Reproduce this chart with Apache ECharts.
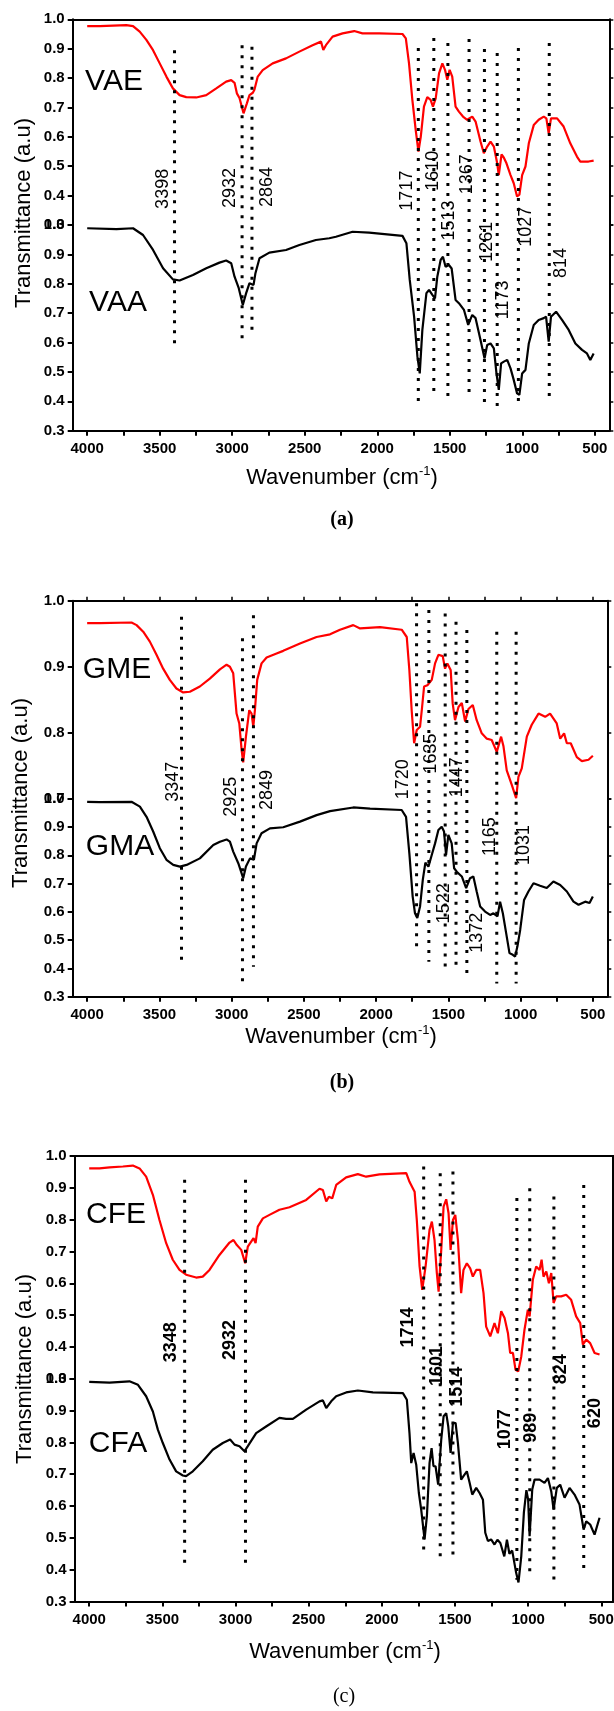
<!DOCTYPE html>
<html><head><meta charset="utf-8">
<script src="https://cdn.jsdelivr.net/npm/echarts@6/dist/echarts.min.js"></script>
<style>html,body{margin:0;padding:0;background:#fff}#c{width:614px;height:1711px}</style>
</head><body><div id="c"></div>
<script>
// ---------- tick labels ----------
const xLabelValues = [500,1000,1500,2000,2500,3000,3500,4000];
const xTickValues = [500,750,1000,1250,1500,1750,2000,2250,2500,2750,3000,3250,3500,3750,4000];

// ---------- panel (a) ----------
const VAE = [[4000,0.977],[3913,0.977],[3730,0.98],[3684,0.977],[3638,0.958],[3592,0.93],[3546,0.895],[3500,0.85],[3454,0.805],[3409,0.765],[3363,0.742],[3317,0.735],[3248,0.734],[3179,0.742],[3110,0.765],[3042,0.788],[3007,0.793],[2984,0.784],[2968,0.748],[2950,0.732],[2922,0.68],[2899,0.714],[2881,0.742],[2858,0.75],[2847,0.76],[2824,0.805],[2790,0.827],[2721,0.85],[2629,0.867],[2537,0.89],[2446,0.912],[2388,0.924],[2372,0.896],[2354,0.912],[2308,0.941],[2239,0.952],[2159,0.96],[2102,0.952],[1987,0.952],[1826,0.95],[1803,0.935],[1781,0.85],[1758,0.726],[1735,0.624],[1716,0.55],[1700,0.6],[1678,0.703],[1655,0.735],[1632,0.726],[1616,0.703],[1597,0.731],[1574,0.816],[1551,0.85],[1533,0.828],[1517,0.794],[1501,0.828],[1483,0.805],[1460,0.703],[1437,0.686],[1409,0.669],[1380,0.658],[1345,0.669],[1322,0.652],[1288,0.584],[1265,0.544],[1242,0.567],[1219,0.584],[1196,0.567],[1173,0.51],[1162,0.47],[1143,0.54],[1127,0.529],[1109,0.51],[1081,0.47],[1059,0.442],[1036,0.397],[1020,0.403],[1001,0.47],[978,0.499],[955,0.578],[921,0.64],[887,0.658],[852,0.669],[834,0.663],[818,0.612],[802,0.663],[760,0.663],[715,0.635],[669,0.578],[623,0.533],[600,0.516],[543,0.516],[508,0.519]];
const VAA = [[4000,0.989],[3798,0.986],[3684,0.989],[3615,0.966],[3546,0.915],[3477,0.853],[3409,0.815],[3363,0.811],[3271,0.83],[3179,0.853],[3088,0.872],[3042,0.879],[3007,0.87],[2984,0.824],[2955,0.785],[2927,0.728],[2904,0.768],[2881,0.802],[2853,0.796],[2840,0.836],[2812,0.887],[2744,0.906],[2629,0.915],[2537,0.932],[2423,0.949],[2331,0.955],[2285,0.96],[2170,0.977],[2056,0.974],[1826,0.963],[1799,0.938],[1776,0.813],[1746,0.688],[1723,0.552],[1707,0.495],[1689,0.643],[1661,0.768],[1643,0.779],[1620,0.762],[1602,0.75],[1586,0.824],[1563,0.881],[1547,0.892],[1529,0.858],[1517,0.852],[1506,0.864],[1487,0.852],[1460,0.745],[1437,0.734],[1402,0.711],[1373,0.66],[1345,0.694],[1322,0.683],[1288,0.609],[1260,0.546],[1242,0.592],[1219,0.597],[1196,0.58],[1178,0.495],[1162,0.439],[1146,0.529],[1127,0.535],[1104,0.541],[1081,0.512],[1059,0.473],[1036,0.427],[1020,0.422],[1001,0.495],[978,0.507],[955,0.597],[921,0.66],[887,0.677],[852,0.683],[836,0.688],[818,0.603],[802,0.688],[767,0.705],[726,0.677],[680,0.643],[634,0.597],[588,0.575],[554,0.563],[531,0.541],[508,0.563]];
const peaksA = [3398,2932,2864,1717,1610,1513,1367,1261,1173,1027,814];
const peakTopA = [1.595,1.612,1.607,1.602,1.636,1.619,1.633,1.599,1.585,1.602,1.619];
const peakBottomA = [0.592,0.602,0.643,0.394,0.428,0.411,0.411,0.391,0.377,0.394,0.408];
const peakLabelWnA = [3480,3016,2763,1793,1614,1503,1383,1246,1135,975,735];
const peakLabelYA = [1.123,1.126,1.129,1.117,1.185,1.015,1.173,0.943,0.745,0.994,0.871];

// ---------- panel (b) ----------
const GME = [[4000,0.966],[3912,0.966],[3693,0.967],[3658,0.963],[3612,0.953],[3566,0.938],[3520,0.918],[3474,0.897],[3428,0.88],[3382,0.867],[3335,0.861],[3289,0.862],[3220,0.87],[3151,0.882],[3081,0.896],[3035,0.903],[3012,0.9],[2989,0.89],[2966,0.829],[2947,0.814],[2931,0.774],[2920,0.755],[2901,0.794],[2878,0.834],[2862,0.829],[2850,0.809],[2839,0.834],[2823,0.88],[2793,0.905],[2758,0.914],[2689,0.92],[2643,0.924],[2527,0.935],[2412,0.945],[2319,0.949],[2250,0.956],[2158,0.963],[2111,0.958],[1973,0.96],[1823,0.956],[1788,0.945],[1770,0.895],[1754,0.834],[1737,0.784],[1719,0.804],[1696,0.809],[1684,0.834],[1668,0.87],[1645,0.872],[1615,0.88],[1592,0.905],[1569,0.918],[1539,0.916],[1523,0.897],[1507,0.905],[1484,0.895],[1470,0.844],[1454,0.819],[1430,0.839],[1407,0.845],[1384,0.817],[1361,0.836],[1331,0.842],[1304,0.819],[1269,0.799],[1234,0.791],[1200,0.789],[1165,0.771],[1135,0.794],[1119,0.78],[1096,0.743],[1061,0.721],[1031,0.701],[1015,0.733],[992,0.746],[957,0.794],[923,0.812],[876,0.829],[830,0.824],[796,0.829],[750,0.814],[726,0.791],[699,0.799],[680,0.784],[653,0.784],[611,0.763],[576,0.757],[530,0.759],[500,0.765]];
const GMA = [[4000,0.989],[3912,0.988],[3693,0.989],[3635,0.972],[3589,0.936],[3543,0.884],[3497,0.825],[3451,0.784],[3404,0.766],[3358,0.76],[3312,0.766],[3220,0.789],[3127,0.836],[3081,0.848],[3035,0.856],[3012,0.848],[2989,0.813],[2954,0.772],[2920,0.719],[2901,0.76],[2873,0.789],[2846,0.784],[2827,0.842],[2793,0.878],[2735,0.895],[2643,0.899],[2527,0.919],[2412,0.942],[2319,0.956],[2158,0.969],[2042,0.965],[1823,0.96],[1793,0.936],[1770,0.807],[1747,0.654],[1731,0.595],[1715,0.578],[1696,0.619],[1677,0.713],[1659,0.774],[1638,0.76],[1615,0.801],[1592,0.842],[1569,0.889],[1546,0.901],[1530,0.884],[1516,0.801],[1500,0.872],[1477,0.842],[1460,0.754],[1442,0.742],[1407,0.725],[1377,0.684],[1350,0.719],[1327,0.725],[1304,0.672],[1280,0.619],[1246,0.601],[1211,0.589],[1188,0.595],[1160,0.584],[1142,0.636],[1123,0.595],[1100,0.525],[1077,0.454],[1054,0.448],[1038,0.442],[1022,0.478],[1003,0.536],[976,0.642],[946,0.672],[911,0.701],[865,0.692],[819,0.684],[773,0.707],[726,0.695],[680,0.672],[634,0.636],[599,0.625],[553,0.636],[523,0.631],[500,0.654]];
const peaksB = [3347,2925,2849,1720,1635,1522,1447,1372,1165,1031];
const peakTopB = [1.643,1.567,1.649,1.691,1.667,1.655,1.626,1.596,1.59,1.59];
const peakBottomB = [0.406,0.33,0.406,0.465,0.424,0.406,0.388,0.359,0.347,0.347];
const peakLabelWnB = [3409,3007,2753,1812,1620,1530,1438,1303,1211,976];
const peakLabelYB = [1.06,1.007,1.031,1.069,1.16,0.63,1.076,0.526,0.866,0.836];

// ---------- panel (c) ----------
const CFE = [[4000,0.961],[3930,0.961],[3861,0.964],[3770,0.967],[3702,0.97],[3656,0.961],[3611,0.935],[3565,0.878],[3520,0.799],[3474,0.726],[3429,0.674],[3383,0.642],[3338,0.627],[3269,0.618],[3224,0.621],[3178,0.642],[3110,0.689],[3041,0.728],[3014,0.736],[2991,0.72],[2961,0.705],[2934,0.663],[2916,0.715],[2893,0.731],[2877,0.742],[2863,0.726],[2848,0.778],[2813,0.804],[2768,0.815],[2700,0.831],[2631,0.839],[2517,0.862],[2426,0.897],[2403,0.893],[2380,0.857],[2362,0.872],[2339,0.867],[2312,0.909],[2244,0.933],[2164,0.943],[2107,0.935],[2016,0.942],[1833,0.946],[1811,0.919],[1776,0.888],[1761,0.799],[1742,0.653],[1724,0.579],[1701,0.653],[1674,0.768],[1658,0.794],[1640,0.736],[1624,0.632],[1612,0.574],[1594,0.705],[1578,0.841],[1560,0.864],[1544,0.82],[1530,0.705],[1514,0.799],[1498,0.815],[1480,0.736],[1458,0.569],[1442,0.642],[1419,0.663],[1396,0.647],[1378,0.621],[1355,0.642],[1328,0.642],[1305,0.569],[1287,0.464],[1259,0.433],[1230,0.475],[1207,0.443],[1184,0.512],[1161,0.491],[1138,0.443],[1123,0.381],[1104,0.381],[1086,0.328],[1068,0.323],[1047,0.37],[1025,0.454],[1002,0.517],[990,0.496],[968,0.611],[945,0.653],[922,0.642],[908,0.674],[895,0.621],[876,0.637],[858,0.6],[842,0.632],[826,0.538],[808,0.559],[774,0.559],[740,0.564],[706,0.548],[672,0.496],[644,0.475],[626,0.407],[603,0.423],[576,0.412],[546,0.381],[512,0.376]];
const CFA = [[4000,0.99],[3861,0.988],[3725,0.992],[3667,0.981],[3611,0.945],[3565,0.897],[3531,0.84],[3497,0.798],[3451,0.746],[3406,0.709],[3360,0.696],[3338,0.694],[3292,0.709],[3224,0.741],[3156,0.777],[3087,0.798],[3037,0.809],[3007,0.793],[2973,0.788],[2939,0.772],[2916,0.788],[2859,0.829],[2791,0.85],[2700,0.877],[2654,0.874],[2608,0.874],[2517,0.903],[2426,0.929],[2403,0.932],[2380,0.908],[2346,0.929],[2312,0.945],[2244,0.957],[2164,0.963],[2061,0.957],[1856,0.955],[1829,0.934],[1811,0.829],[1799,0.735],[1783,0.767],[1765,0.73],[1747,0.641],[1731,0.589],[1708,0.495],[1692,0.568],[1674,0.735],[1660,0.782],[1647,0.725],[1633,0.725],[1615,0.667],[1594,0.809],[1578,0.882],[1560,0.892],[1546,0.85],[1530,0.767],[1514,0.861],[1496,0.861],[1480,0.798],[1458,0.683],[1442,0.694],[1419,0.709],[1400,0.673],[1382,0.636],[1355,0.657],[1332,0.641],[1309,0.62],[1293,0.516],[1275,0.49],[1253,0.495],[1230,0.479],[1210,0.494],[1190,0.484],[1163,0.442],[1145,0.494],[1128,0.45],[1109,0.46],[1082,0.39],[1066,0.36],[1047,0.442],[1029,0.58],[1012,0.65],[1000,0.62],[990,0.505],[972,0.652],[956,0.683],[922,0.683],[888,0.673],[865,0.688],[842,0.646],[826,0.589],[804,0.657],[781,0.667],[751,0.626],[717,0.657],[683,0.636],[649,0.605],[621,0.526],[603,0.552],[576,0.542],[546,0.51],[512,0.563]];
const peaksC = [3348,2932,1714,1601,1514,1077,989,824,620];
const peakTopC = [1.625,1.625,1.667,1.646,1.651,1.568,1.599,1.573,1.609];
const peakBottomC = [0.415,0.415,0.457,0.436,0.441,0.368,0.389,0.368,0.399];
const peakLabelWnC = [3440,3041,1822,1624,1487,1161,977,774,546];
const peakLabelYC = [1.115,1.122,1.161,1.04,0.975,0.841,0.846,1.03,0.892];

// ---------- layout ----------
const SANS = "'Liberation Sans', Arial, sans-serif";
const SERIF = "'Liberation Serif', 'Times New Roman', serif";
const panels = [
  {left:72.7, width:536.6, top:19.3, half:205.7, xMin:400, xMax:4100, topMin:0.3, topTicks:false,
   red:VAE, black:VAA, peaks:peaksA, pTop:peakTopA, pBot:peakBottomA, lw:peakLabelWnA, ly:peakLabelYA, bold:false,
   names:['VAE','VAA'], nameXY:[[114,82],[118,303]], yTitle:[24,213], xTitle:[342,478], tag:'(a)', tagXY:[342,520], tagBold:true},
  {left:72.7, width:534.6, top:600.7, half:198, xMin:400, xMax:4100, topMin:0.7, topTicks:true,
   red:GME, black:GMA, peaks:peaksB, pTop:peakTopB, pBot:peakBottomB, lw:peakLabelWnB, ly:peakLabelYB, bold:false,
   names:['GME','GMA'], nameXY:[[117,670],[120,847]], yTitle:[21,793], xTitle:[341,1037], tag:'(b)', tagXY:[342,1083], tagBold:true},
  {left:74.6, width:538.4, top:1156, half:222.75, xMin:420, xMax:4100, topMin:0.3, topTicks:false,
   red:CFE, black:CFA, peaks:peaksC, pTop:peakTopC, pBot:peakBottomC, lw:peakLabelWnC, ly:peakLabelYC, bold:true,
   names:['CFE','CFA'], nameXY:[[116,1215],[118,1444]], yTitle:[25,1369], xTitle:[345,1652], tag:'(c)', tagXY:[344,1697], tagBold:false}
];

const grid = [], xAxis = [], yAxis = [], series = [], graphic = [];
const axisLine = {show:true, lineStyle:{color:'#000', width:2}};
const yLabel = {show:true, color:'#000', fontSize:15, fontWeight:'bold', fontFamily:SANS, margin:8, formatter:v=>v.toFixed(1)};

panels.forEach((p, i) => {
  const g0 = grid.length;
  grid.push({left:p.left, width:p.width, top:p.top, height:p.half, containLabel:false, outerBoundsMode:'none'});
  grid.push({left:p.left, width:p.width, top:p.top+p.half, height:p.half, containLabel:false, outerBoundsMode:'none'});
  grid.push({left:p.left, width:p.width, top:p.top, height:2*p.half, containLabel:false, outerBoundsMode:'none'});
  const x0 = xAxis.length;
  const xBase = {type:'value', min:p.xMin, max:p.xMax, inverse:true, splitLine:{show:false}};
  xAxis.push(Object.assign({}, xBase, {gridIndex:g0, position:'top', axisLine,
    axisTick:{show:p.topTicks, length:4, lineStyle:{width:1.5, color:'#000'}, customValues:xTickValues},
    axisLabel:{show:false}}));
  xAxis.push(Object.assign({}, xBase, {gridIndex:g0+1, position:'bottom', axisLine,
    axisTick:{show:true, length:5, lineStyle:{width:2, color:'#000'}, customValues:xTickValues},
    axisLabel:{show:true, color:'#000', fontSize:15, fontWeight:'bold', fontFamily:SANS, margin:11,
      customValues:xLabelValues, formatter:v=>String(Math.round(v))}}));
  xAxis.push(Object.assign({}, xBase, {gridIndex:g0+2, show:false}));
  const y0 = yAxis.length;
  const yTick = {show:true, length:5, lineStyle:{width:2, color:'#000'}};
  const yTickR = {show:true, length:4, lineStyle:{width:1.5, color:'#000'}};
  yAxis.push({type:'value', gridIndex:g0, min:p.topMin, max:1.0, interval:0.1, position:'left', axisLine, axisTick:yTick, axisLabel:yLabel, splitLine:{show:false}});
  yAxis.push({type:'value', gridIndex:g0, min:p.topMin, max:1.0, interval:0.1, position:'right', axisLine, axisTick:yTickR, axisLabel:{show:false}, splitLine:{show:false}});
  yAxis.push({type:'value', gridIndex:g0+1, min:0.3, max:1.0, interval:0.1, position:'left', axisLine, axisTick:yTick, axisLabel:yLabel, splitLine:{show:false}});
  yAxis.push({type:'value', gridIndex:g0+1, min:0.3, max:1.0, interval:0.1, position:'right', axisLine, axisTick:yTickR, axisLabel:{show:false}, splitLine:{show:false}});
  yAxis.push({type:'value', gridIndex:g0+2, min:0.3, max:1.7, show:false});

  series.push({type:'line', xAxisIndex:x0, yAxisIndex:y0, data:p.red, symbol:'none', smooth:false,
    lineStyle:{color:'#ff0000', width:2.2}, z:2, silent:true});
  series.push({type:'line', xAxisIndex:x0+1, yAxisIndex:y0+2, data:p.black, symbol:'none', smooth:false,
    lineStyle:{color:'#000000', width:2.2}, z:2, silent:true});
  series.push({type:'custom', xAxisIndex:x0+2, yAxisIndex:y0+4, silent:true, z:4,
    data:p.peaks.map((w,k)=>[w, p.pTop[k], p.pBot[k]]),
    encode:{x:0, y:1},
    renderItem:(params, api)=>{
      const a = api.coord([api.value(0), api.value(1)]);
      const b = api.coord([api.value(0), api.value(2)]);
      return {type:'line', shape:{x1:a[0], y1:a[1], x2:b[0], y2:b[1]},
        style:{stroke:'#000', lineWidth:3, lineDash:[3,7], lineCap:'butt'}};
    }});
  series.push({type:'custom', xAxisIndex:x0+2, yAxisIndex:y0+4, silent:true, z:3,
    data:p.peaks.map((w,k)=>[p.lw[k], p.ly[k], String(w)]),
    encode:{x:0, y:1},
    renderItem:(params, api)=>{
      const c = api.coord([api.value(0), api.value(1)]);
      return {type:'text', x:c[0], y:c[1], rotation:Math.PI/2,
        style:{text:p.peaks[params.dataIndex].toString(), fill:'#000', fontSize:18, fontFamily:SANS,
          fontWeight:p.bold?'bold':'normal', align:'center', verticalAlign:'middle'}};
    }});

  graphic.push({type:'text', x:p.nameXY[0][0], y:p.nameXY[0][1], style:{text:p.names[0], fill:'#000', fontSize:30, fontFamily:SANS, align:'center', verticalAlign:'middle'}});
  graphic.push({type:'text', x:p.nameXY[1][0], y:p.nameXY[1][1], style:{text:p.names[1], fill:'#000', fontSize:30, fontFamily:SANS, align:'center', verticalAlign:'middle'}});
  graphic.push({type:'text', x:p.yTitle[0], y:p.yTitle[1], rotation:Math.PI/2, style:{text:'Transmittance (a.u)', fill:'#000', fontSize:22, fontFamily:SANS, align:'center', verticalAlign:'middle'}});
  graphic.push({type:'text', x:p.xTitle[0], y:p.xTitle[1], style:{text:'{a|Wavenumber (cm}{s|-1}{a|)}', align:'center', verticalAlign:'middle',
    rich:{a:{fontSize:22, fontFamily:SANS, fill:'#000', lineHeight:26}, s:{fontSize:13, fontFamily:SANS, fill:'#000', verticalAlign:'top', lineHeight:26}}}});
  graphic.push({type:'text', x:p.tagXY[0], y:p.tagXY[1], style:{text:p.tag, fill:'#000', fontSize:20, fontFamily:SERIF, fontWeight:p.tagBold?'bold':'normal', align:'center', verticalAlign:'middle'}});
});

const chart = echarts.init(document.getElementById('c'), null, {renderer:'canvas'});
chart.setOption({animation:false, backgroundColor:'#fff', grid, xAxis, yAxis, series, graphic});
</script>
</body></html>
